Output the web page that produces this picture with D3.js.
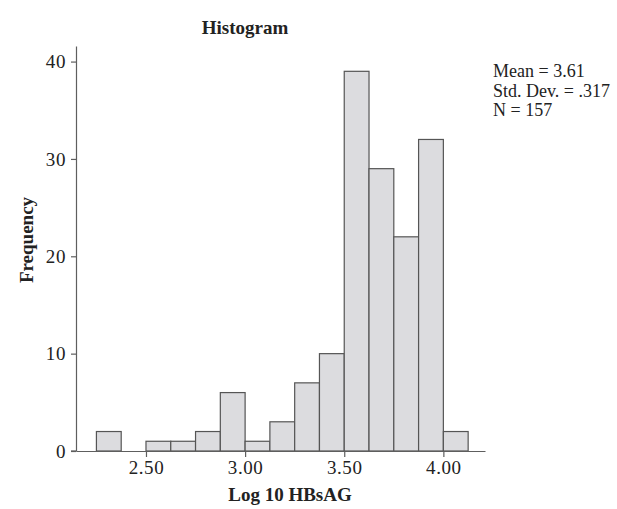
<!DOCTYPE html>
<html>
<head>
<meta charset="utf-8">
<script src="https://cdn.jsdelivr.net/npm/d3@7"></script>
<style>
  body { margin: 0; background: #fff; }
  svg { display: block; font-family: 'Liberation Serif', serif; }
  .axis path, .axis line { stroke: #5e5e5e; stroke-width: 1.2; }
  .axis text { font-size: 19px; letter-spacing: 0.6px; fill: #222; font-family: 'Liberation Serif', serif; }
</style>
</head>
<body>
<svg id="chart"></svg>
<script>
// bins of Log 10 HBsAG (width .125) and their counts
const binStarts = [2.25, 2.375, 2.5, 2.625, 2.75, 2.875, 3.0, 3.125, 3.25, 3.375, 3.5, 3.625, 3.75, 3.875, 4.0];
const counts = [2, 0, 1, 1, 2, 6, 1, 3, 7, 10, 39, 29, 22, 32, 2];
const binWidth = 0.125;
const xTicks = [2.5, 3.0, 3.5, 4.0];
const yTicks = [0, 10, 20, 30, 40];
const statsLines = ['Mean = 3.61', 'Std. Dev. = .317', 'N = 157'];

const app = (function () {
  'use strict';

  function init () {
    const margin = { top: 46, right: 132, bottom: 58, left: 76 };
    const W = 617;
    const H = 509;
    const w = W - margin.left - margin.right;
    const h = H - margin.top - margin.bottom;

    const bins = binStarts.map(function (s, i) {
      return { x0: s, x1: s + binWidth, n: counts[i] };
    });

    const xScale = d3.scaleLinear()
      .domain([2.147, 4.21])
      .range([0, w]);

    const yScale = d3.scaleLinear()
      .domain([0, 41.6])
      .range([h, 0]);

    const svg = d3.select('#chart')
      .attr('width', W)
      .attr('height', H);

    const g = svg.append('g')
      .attr('transform', 'translate(' + margin.left + ',' + margin.top + ')');

    // bars
    g.selectAll('rect')
      .data(bins.filter(function (d) { return d.n > 0; }))
      .enter()
      .append('rect')
      .attr('x', function (d) { return xScale(d.x0); })
      .attr('y', function (d) { return yScale(d.n); })
      .attr('width', function (d) { return xScale(d.x1) - xScale(d.x0); })
      .attr('height', function (d) { return yScale(0) - yScale(d.n); })
      .attr('fill', '#dcdcdf')
      .attr('stroke', '#555')
      .attr('stroke-width', 1.2);

    // y axis
    const yAxis = d3.axisLeft(yScale)
      .tickValues(yTicks)
      .tickSize(5)
      .tickPadding(5)
      .tickSizeOuter(0);
    g.append('g')
      .attr('class', 'axis')
      .call(yAxis);

    // x axis
    const xAxis = d3.axisBottom(xScale)
      .tickValues(xTicks)
      .tickFormat(d3.format('.2f'))
      .tickSize(6)
      .tickPadding(4)
      .tickSizeOuter(0);
    g.append('g')
      .attr('class', 'axis')
      .attr('transform', 'translate(0,' + h + ')')
      .call(xAxis);

    // little stub left of the y axis at zero
    g.append('line')
      .attr('x1', -5).attr('x2', 0)
      .attr('y1', yScale(0)).attr('y2', yScale(0))
      .attr('stroke', '#5e5e5e')
      .attr('stroke-width', 1.2);

    // title
    svg.append('text')
      .attr('x', 245)
      .attr('y', 34)
      .attr('text-anchor', 'middle')
      .style('font-weight', 'bold')
      .style('font-size', '19px')
      .attr('fill', '#222')
      .text('Histogram');

    // x label
    svg.append('text')
      .attr('x', 290)
      .attr('y', 501)
      .attr('text-anchor', 'middle')
      .style('font-weight', 'bold')
      .style('font-size', '19px')
      .attr('fill', '#222')
      .text('Log 10 HBsAG');

    // y label
    svg.append('text')
      .attr('transform', 'translate(33,240) rotate(-90)')
      .attr('text-anchor', 'middle')
      .style('font-weight', 'bold')
      .style('font-size', '19px')
      .attr('fill', '#222')
      .text('Frequency');

    // stats
    svg.append('g')
      .selectAll('text')
      .data(statsLines)
      .enter()
      .append('text')
      .attr('x', 493)
      .attr('y', function (d, i) { return 77 + i * 19.5; })
      .style('font-size', '18px')
      .attr('fill', '#222')
      .text(function (d) { return d; });
  }

  return { init: init };
}());

window.addEventListener('load', app.init);
</script>
</body>
</html>
